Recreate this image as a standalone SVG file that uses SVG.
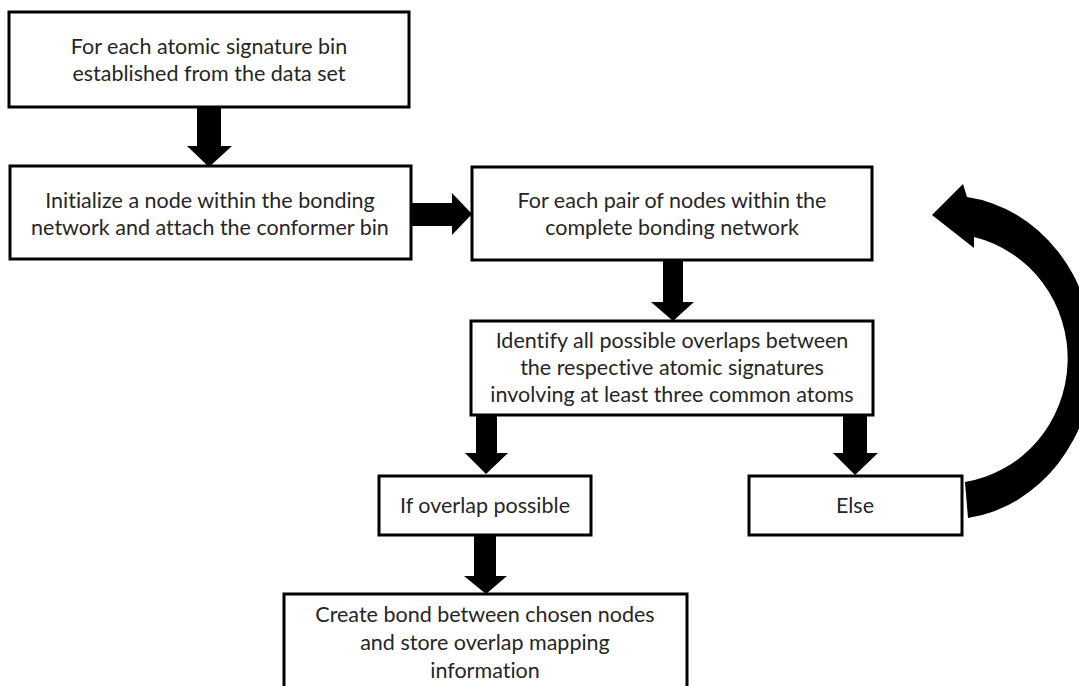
<svg xmlns="http://www.w3.org/2000/svg" width="1079" height="686" viewBox="0 0 1079 686">
  <style>
    .box { fill: #ffffff; stroke: #000000; stroke-width: 3; }
    .lbl { font-family: Lato, "Open Sans", sans-serif; font-size: 21.5px; fill: #262626; text-anchor: middle; font-variant-ligatures: none; font-feature-settings: "liga" 0, "clig" 0, "dlig" 0; }
    .arw { fill: #000000; stroke: none; }
  </style>
  <rect width="1079" height="686" fill="#ffffff"/>

  <!-- thick block arrows between steps -->
  <g id="connectors">
    <polygon class="arw" points="197,107 221,107 221,146 232,146 209,167 187,146 197,146"/>
    <polygon class="arw" points="411,203 452,203 452,193 472,214 452,235 452,226 411,226"/>
    <polygon class="arw" points="663,260 683,260 683,302 694,302 673,321 651,302 663,302"/>
    <polygon class="arw" points="476,415 497,415 497,453 508,453 486,474 465,453 476,453"/>
    <polygon class="arw" points="843,415 867,415 867,453 878,453 855,475 833,453 843,453"/>
    <polygon class="arw" points="474,535 496,535 496,576 507,576 486,594 464,576 474,576"/>
    <!-- loop back from Else to the pair iteration -->
    <path class="arw" d="M967,197 A146,162 0 0 1 968,518 L965,482 A122,125 0 0 0 974,237 L974,248 L932,215 L963,184 Z"/>
  </g>

  <g id="node-signature-bin">
    <rect class="box" x="9" y="12" width="400" height="95"/>
    <text class="lbl" x="209" y="54">For each atomic signature bin</text>
    <text class="lbl" x="209" y="81">established from the data set</text>
  </g>

  <g id="node-initialize">
    <rect class="box" x="10" y="166" width="401" height="93"/>
    <text class="lbl" x="210" y="208">Initialize a node within the bonding</text>
    <text class="lbl" x="210" y="235">network and attach the conformer bin</text>
  </g>

  <g id="node-pair-loop">
    <rect class="box" x="472" y="167" width="400" height="93"/>
    <text class="lbl" x="672" y="208">For each pair of nodes within the</text>
    <text class="lbl" x="672" y="235">complete bonding network</text>
  </g>

  <g id="node-identify-overlaps">
    <rect class="box" x="471" y="321" width="402" height="94"/>
    <text class="lbl" x="672" y="348">Identify all possible overlaps between</text>
    <text class="lbl" x="672" y="375">the respective atomic signatures</text>
    <text class="lbl" x="672" y="402">involving at least three common atoms</text>
  </g>

  <g id="node-if-overlap">
    <rect class="box" x="379" y="476" width="212" height="59"/>
    <text class="lbl" x="485" y="513">If overlap possible</text>
  </g>

  <g id="node-else">
    <rect class="box" x="749" y="476" width="213" height="59"/>
    <text class="lbl" x="855" y="513">Else</text>
  </g>

  <g id="node-create-bond">
    <rect class="box" x="284" y="594" width="403" height="110"/>
    <text class="lbl" x="485" y="622">Create bond between chosen nodes</text>
    <text class="lbl" x="485" y="650">and store overlap mapping</text>
    <text class="lbl" x="485" y="678">information</text>
  </g>
</svg>
